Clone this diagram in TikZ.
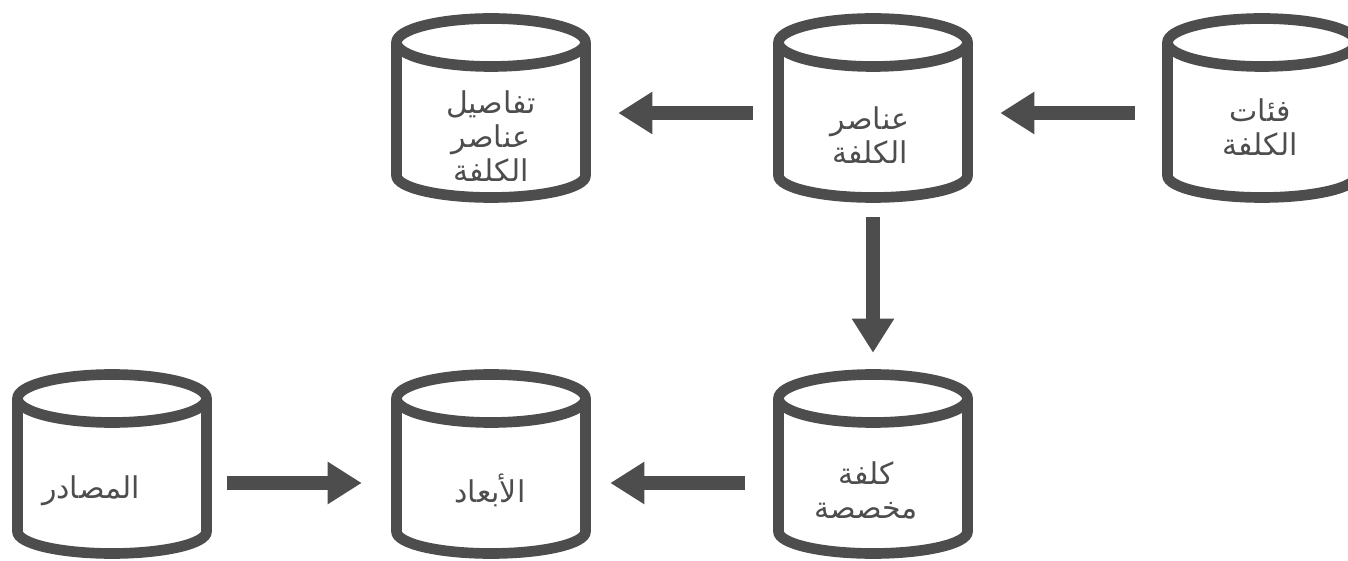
\documentclass[tikz,border=0pt]{standalone}
\usepackage{fontspec}
\usepackage{tikz}
\usetikzlibrary{arrows.meta}
\newfontfamily\arabicfont[Script=Arabic]{DejaVu Sans}
\TeXXeTstate=1
\definecolor{cylgray}{HTML}{4D4D4D}
\def\ar#1{\beginR #1\endR}
\tikzset{
  cylline/.style={draw=cylgray,line width=8pt},
  cylbox/.style={inner sep=0pt,minimum width=150pt,minimum height=142.5pt},
  cyltext/.style={align=center,text=cylgray,font=\arabicfont\fontsize{22.5}{25.5}\selectfont},
  flow/.style={draw=cylgray,line width=10.5pt,-{Triangle[length=25.5pt,width=30pt]}}
}
\def\dbcyl#1#2#3#4#5{
  % 1: x
  % 2: y
  % 3: name
  % 4: text
  % 5: text offset
  \begin{scope}[shift={(#1,#2)}]
    \node[cylbox] (#3) at (0,0) {};
    \draw[cylline] (-94.5,65.5) -- (-94.5,-67.5) arc[start angle=180,end angle=360,x radius=94.5,y radius=22] -- (94.5,65.5);
    \draw[cylline] (0,65.5) ellipse[x radius=94.5,y radius=24];
    \node[cyltext] (#3-t) at (#5) {#4};
  \end{scope}
}
\begin{document}
\begin{tikzpicture}[x=0.75pt,y=0.75pt]
    \useasboundingbox (0,0) rectangle (1348,560);
    % \dbcyl{x}{y}{name}{text}{offset}
    \dbcyl{491}{452}{det}{\ar{تفاصيل}\\\ar{عناصر}\\\ar{الكلفة}}{0,-28}
    \dbcyl{873}{452}{elem}{\ar{عناصر}\\\ar{الكلفة}}{-3,-27}
    \dbcyl{1262}{452}{cat}{\ar{فئات}\\\ar{الكلفة}}{-2,-19}
    \dbcyl{112}{96}{res}{\ar{المصادر}}{-21,-27}
    \dbcyl{491}{96}{dim}{\ar{الأبعاد}}{-1,-26}
    \dbcyl{873}{96}{alloc}{\ar{كلفة}\\\ar{مخصصة}}{-7,-26}

    \draw[flow,shorten <=15pt,shorten >=20.25pt] ([yshift=-3.75pt]elem.west) -- ([yshift=-3.75pt]det.east);
    \draw[flow,shorten <=20.25pt,shorten >=20.25pt] ([yshift=-3.75pt]cat.west) -- ([yshift=-3.75pt]elem.east);
    \draw[flow,shorten <=10.5pt,shorten >=12pt] (elem.south) -- (alloc.north);
    \draw[flow,shorten <=21pt,shorten >=14.25pt] ([yshift=-14.25pt]alloc.west) -- ([yshift=-14.25pt]dim.east);
    \draw[flow,shorten <=11.25pt,shorten >=21.75pt] ([yshift=-14.25pt]res.east) -- ([yshift=-14.25pt]dim.west);
\end{tikzpicture}
\end{document}
